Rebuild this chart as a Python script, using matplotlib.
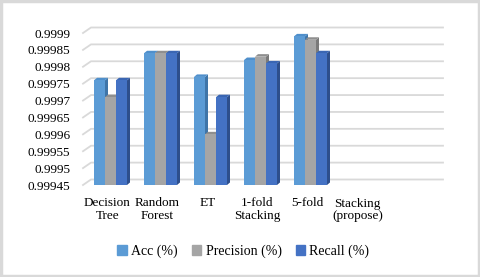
import numpy as np
import matplotlib
matplotlib.use("Agg")
import matplotlib.pyplot as plt
from matplotlib.patches import Polygon, Rectangle, Patch

# ---------- data ----------
categories = ["Decision\nTree", "Random\nForest", "ET", "1-fold\nStacking", "5-fold", "Stacking\n(propose)"]
acc = [0.99976, 0.99984, 0.99977, 0.99982, 0.99989, np.nan]
precision = [0.99971, 0.99984, 0.99960, 0.99983, 0.99988, np.nan]
recall = [0.99976, 0.99984, 0.99971, 0.99981, 0.99984, np.nan]
series_names = ["Acc (%)", "Precision (%)", "Recall (%)"]
y_ticks = [0.99945, 0.9995, 0.99955, 0.9996, 0.99965, 0.9997, 0.99975, 0.9998, 0.99985, 0.9999]

# front, top, side colours (Excel 3D look)
colors = [("#5b9bd5", "#4f8fcb", "#3f75a8"),
          ("#a5a5a5", "#8f8f8f", "#7a7a7a"),
          ("#4472c4", "#3a66b3", "#2e4f8c")]

W, H, DPI = 480, 277, 100
fig = plt.figure(figsize=(W / DPI, H / DPI), dpi=DPI)
plt.rcParams["font.family"] = ["Liberation Serif", "DejaVu Serif"]

# outer light border
fig.patches.append(Rectangle((0.003, 0.005), 0.994, 0.99, transform=fig.transFigure,
                             fill=False, ec="#d9d9d9", lw=2.5))

# axes in pixel layout
ax_l, ax_r, ax_t, ax_b = 83, 443, 33, 185
ax = fig.add_axes([ax_l / W, 1 - ax_b / H, (ax_r - ax_l) / W, (ax_b - ax_t) / H])
step_px = 50.0
x0 = -(110.5 - ax_l) / step_px
x1 = x0 + (ax_r - ax_l) / step_px
ax.set_xlim(x0, x1)
ax.set_ylim(0.99945, 0.9999)
for s in ax.spines.values():
    s.set_visible(False)

px_x = (x1 - x0) / (ax_r - ax_l)          # data units per pixel (x)
px_y = (0.9999 - 0.99945) / (ax_b - ax_t)  # data units per pixel (y)

# floor-perspective gridlines
gdx, gdy = 8 * px_x, 5.5 * px_y
for v in y_ticks:
    ax.plot([x0, x0 + gdx, x1], [v, v + gdy, v + gdy], color="#d9d9d9", lw=1.3,
            clip_on=False, zorder=0)

# bars with small 3D depth
bw = 11 * px_x
ddx, ddy = 3 * px_x, 2.5 * px_y
base = 0.99945
x = np.arange(len(categories))
for k, vals in enumerate([acc, precision, recall]):
    front, top, side = colors[k]
    xs = x + (k - 1) * bw
    for xc, v in zip(xs, vals):
        if np.isnan(v):
            continue
        xl, xr = xc - bw / 2, xc + bw / 2
        ax.add_patch(Polygon([(xr, base), (xr + ddx, base + ddy), (xr + ddx, v + ddy), (xr, v)],
                             closed=True, fc=side, ec="none", clip_on=False, zorder=2 + k))
        ax.add_patch(Polygon([(xl, v), (xr, v), (xr + ddx, v + ddy), (xl + ddx, v + ddy)],
                             closed=True, fc=top, ec="none", clip_on=False, zorder=2 + k))
        ax.bar(xc, v - base, bottom=base, width=bw, color=front, lw=0, zorder=2 + k, clip_on=False)

# ticks
ax.set_yticks(y_ticks)
ax.set_yticklabels([f"{v:.5f}".rstrip("0") for v in y_ticks], fontsize=9.5)
ax.tick_params(axis="y", length=0, pad=9)
ax.set_xticks(x - 0.06)
ax.set_xticklabels(categories, fontsize=9.5, linespacing=1.05)
ax.tick_params(axis="x", length=0, pad=9)

handles = [Patch(color=c[0]) for c in colors]
fig.legend(handles, series_names, loc="center", bbox_to_anchor=(0.507, 1 - 251 / H),
           ncol=3, frameon=False, fontsize=10, handlelength=0.7, handleheight=0.7,
           handletextpad=0.3, columnspacing=1.0)

fig.savefig("out.png", dpi=DPI)
